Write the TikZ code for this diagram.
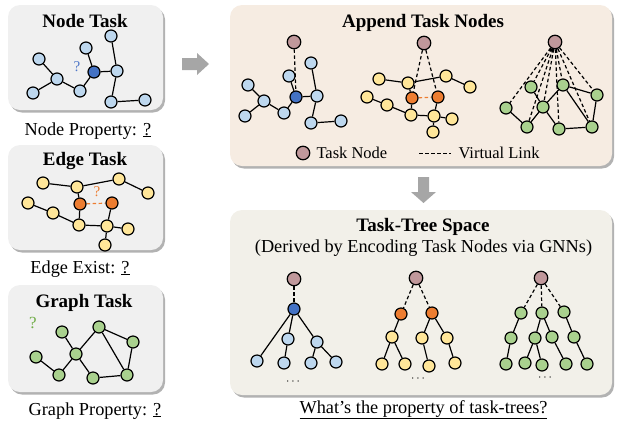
\documentclass[tikz,border=0pt]{standalone}
\usepackage{fontspec}
\setmainfont{Liberation Serif}
\usetikzlibrary{shadows}
\definecolor{lblue}{RGB}{189,215,238}
\definecolor{dblue}{RGB}{68,114,196}
\definecolor{lyel}{RGB}{255,230,153}
\definecolor{dorange}{RGB}{237,125,49}
\definecolor{lgreen}{RGB}{169,209,142}
\definecolor{mauve}{RGB}{192,152,155}
\definecolor{pgray}{RGB}{240,240,240}
\definecolor{pbeige}{RGB}{246,236,226}
\definecolor{pcream}{RGB}{242,240,233}
\definecolor{agray}{RGB}{166,166,166}
\definecolor{qblue}{RGB}{80,120,200}
\definecolor{qgreen}{RGB}{112,173,71}
\pgfdeclarelayer{bg}
\pgfdeclarelayer{edges}
\pgfsetlayers{bg,edges,main}
\begin{document}
\begin{tikzpicture}[x=1pt,y=-1pt,
 panel/.style={rounded corners=12pt, drop shadow={shadow xshift=2pt,shadow yshift=-2.5pt,fill=black,opacity=.3}},
 gnode/.style={circle,draw=black,line width=1.2pt,minimum size=12pt,inner sep=0pt},
 bn/.style={gnode,fill=lblue},
 dbn/.style={gnode,fill=dblue},
 yn/.style={gnode,fill=lyel},
 on/.style={gnode,fill=dorange},
 gn/.style={gnode,fill=lgreen},
 tn/.style={gnode,fill=mauve,minimum size=13.5pt},
 ed/.style={line width=1.2pt},
 vl/.style={line width=1.2pt,dash pattern=on 3.5pt off 2.5pt},
 ovl/.style={line width=1.2pt,dorange,dash pattern=on 3.5pt off 2.5pt},
 title/.style={anchor=base,font=\fontsize{19}{22}\selectfont\bfseries},
 lab/.style={anchor=base,font=\fontsize{18.3}{22}\selectfont},
 leg/.style={anchor=base west,font=\fontsize{16.5}{20}\selectfont},
 qm/.style={font=\fontsize{15}{18}\selectfont},
 dots/.style={font=\fontsize{12}{14}\selectfont}
]
\path[use as bounding box] (0,0) rectangle (617,421);
\begin{pgfonlayer}{bg}
\path[panel,fill=pgray] (8,5) rectangle (163,110);
\path[panel,fill=pgray] (8,145) rectangle (163,250);
\path[panel,fill=pgray] (8,285) rectangle (163,392);
\path[panel,fill=pbeige] (230,5) rectangle (612,166);
\path[panel,fill=pcream] (230,210) rectangle (612,395);
\end{pgfonlayer}
% arrows
\fill[agray] (182,58) -- (197,58) -- (197,53) -- (209,64) -- (197,75) -- (197,70) -- (182,70) -- cycle;
\fill[agray] (418,177) -- (429,177) -- (429,192) -- (436,192) -- (423.5,203) -- (411,192) -- (418,192) -- cycle;
% titles and labels
\node[title] (t1) at (85,27) {Node Task};
\node[lab] (l1) at (88,135) {Node Property: \underline{?}};
\node[title] (t2) at (85,165) {Edge Task};
\node[lab] (l2) at (80,273) {Edge Exist: \underline{?}};
\node[title] (t3) at (84,307) {Graph Task};
\node[lab] (l3) at (95,415) {Graph Property: \underline{?}};
\node[title] (t4) at (423,27) {Append Task Nodes};
\node[title] (t5) at (423,231) {Task-Tree Space};
\node[lab] (t6) at (423.5,252) {(Derived by Encoding Task Nodes via GNNs)};
\node[lab] (l4) at (423.5,413) {\underline{What’s the property of task-trees?}};
% ---- Node Task
\node[bn] (A1) at (39,59) {};
\node[bn] (A2) at (57,79) {};
\node[bn] (A3) at (33,93) {};
\node[bn] (A4) at (80,91) {};
\node[dbn] (A5) at (94,72) {};
\node[bn] (A6) at (86,48) {};
\node[bn] (A7) at (117,71) {};
\node[bn] (A8) at (111,36) {};
\node[bn] (A9) at (111,102) {};
\node[bn] (A10) at (145,100) {};
\node[qm,text=qblue] (Aq) at (77,67) {?};
\begin{pgfonlayer}{edges}
\draw[ed] (A1)--(A2) (A2)--(A3) (A2)--(A4) (A4)--(A5) (A5)--(A6) (A5)--(A7) (A7)--(A8) (A7)--(A9) (A9)--(A10);
\end{pgfonlayer}
% ---- Edge Task
\node[yn] (B1) at (43,183) {};
\node[yn] (B2) at (77,187) {};
\node[yn] (B3) at (119,179) {};
\node[yn] (B4) at (148,193) {};
\node[yn] (B5) at (28,203) {};
\node[yn] (B6) at (53,213) {};
\node[on] (B7) at (80,204) {};
\node[on] (B8) at (112,203) {};
\node[yn] (B9) at (79,225) {};
\node[yn] (B10) at (107,226) {};
\node[yn] (B11) at (128,229) {};
\node[yn] (B12) at (105,245) {};
\node[qm,text=dorange] (Bq) at (97,192) {?};
\begin{pgfonlayer}{edges}
\draw[ed] (B1)--(B2) (B2)--(B3) (B3)--(B4) (B2)--(B7) (B5)--(B6) (B6)--(B9) (B7)--(B9) (B9)--(B10) (B10)--(B8) (B10)--(B11) (B10)--(B12);
\draw[ovl] (B7)--(B8);
\end{pgfonlayer}
% ---- Graph Task
\node[gn] (C1) at (62,332) {};
\node[gn] (C2) at (99,327) {};
\node[gn] (C3) at (133,342) {};
\node[gn] (C4) at (36,357) {};
\node[gn] (C5) at (76,354) {};
\node[gn] (C6) at (59,375) {};
\node[gn] (C7) at (93,378) {};
\node[gn] (C8) at (127,375) {};
\node[qm,text=qgreen,font=\fontsize{17}{20}\selectfont] (Cq) at (33,323) {?};
\begin{pgfonlayer}{edges}
\draw[ed] (C1)--(C5) (C4)--(C6) (C6)--(C5) (C5)--(C2) (C5)--(C7) (C7)--(C8) (C2)--(C8) (C3)--(C8) (C2)--(C3);
\end{pgfonlayer}
% ---- Append graph 1
\node[tn] (DT) at (294,42) {};
\node[bn] (D1) at (311,63) {};
\node[bn] (D2) at (289,76) {};
\node[bn] (D3) at (248,85) {};
\node[bn] (D4) at (264,101) {};
\node[dbn] (D5) at (296,97) {};
\node[bn] (D6) at (317,96) {};
\node[bn] (D7) at (245,116) {};
\node[bn] (D8) at (284,113) {};
\node[bn] (D9) at (311,123) {};
\node[bn] (D10) at (341,121) {};
\begin{pgfonlayer}{edges}
\draw[ed] (D2)--(D5) (D1)--(D6) (D5)--(D6) (D5)--(D8) (D8)--(D4) (D4)--(D3) (D4)--(D7) (D6)--(D9) (D9)--(D10);
\draw[vl] (DT)--(D5);
\end{pgfonlayer}
% ---- Append graph 2
\node[tn] (ET) at (424,43) {};
\node[yn] (E1) at (379,79) {};
\node[yn] (E2) at (408,83) {};
\node[yn] (E3) at (446,76) {};
\node[yn] (E4) at (470,87) {};
\node[yn] (E5) at (367,97) {};
\node[yn] (E6) at (387,105) {};
\node[on] (E7) at (412,98) {};
\node[on] (E8) at (438,97) {};
\node[yn] (E9) at (411,115) {};
\node[yn] (E10) at (434,116) {};
\node[yn] (E11) at (452,119) {};
\node[yn] (E12) at (433,132) {};
\begin{pgfonlayer}{edges}
\draw[ed] (E1)--(E2) (E2)--(E3) (E3)--(E4) (E2)--(E7) (E5)--(E6) (E6)--(E9) (E7)--(E9) (E9)--(E10) (E10)--(E8) (E10)--(E11) (E10)--(E12);
\draw[ovl] (E7)--(E8);
\draw[vl] (ET)--(E7) (ET)--(E8);
\end{pgfonlayer}
% ---- Append graph 3
\node[tn] (FT) at (555,42) {};
\node[gn] (F1) at (531,87) {};
\node[gn] (F2) at (563,85) {};
\node[gn] (F3) at (597,95) {};
\node[gn] (F4) at (506,108) {};
\node[gn] (F5) at (543,107) {};
\node[gn] (F6) at (527,127) {};
\node[gn] (F7) at (559,129) {};
\node[gn] (F8) at (592,127) {};
\begin{pgfonlayer}{edges}
\draw[ed] (F1)--(F5) (F4)--(F6) (F6)--(F5) (F5)--(F2) (F5)--(F7) (F7)--(F8) (F2)--(F8) (F3)--(F8) (F2)--(F3);
\draw[vl] (FT)--(F1) (FT)--(F2) (FT)--(F3) (FT)--(F4) (FT)--(F5) (FT)--(F6) (FT)--(F7) (FT)--(F8);
\end{pgfonlayer}
% ---- legend
\node[tn] (LT) at (303,153) {};
\node[leg] (LTt) at (313,158) {Task Node};
\coordinate (V1) at (419,153);
\coordinate (V2) at (451,153);
\draw[vl,line width=1pt] (V1)--(V2);
\node[leg] (LVt) at (455,158) {Virtual Link};
% ---- Tree 1
\node[tn] (GT) at (294,279) {};
\node[dbn] (G0) at (294,309) {};
\node[bn] (G1) at (288,339) {};
\node[bn] (G2) at (317,342) {};
\node[bn] (G3) at (257,361) {};
\node[bn] (G4) at (284,363) {};
\node[bn] (G5) at (311,363) {};
\node[bn] (G6) at (336,362) {};
\node[dots] (Gd) at (293,382) {$\cdots$};
\begin{pgfonlayer}{edges}
\draw[vl] (GT)--(G0);
\draw[ed] (G0)--(G3) (G0)--(G1) (G0)--(G2) (G1)--(G4) (G2)--(G5) (G2)--(G6);
\end{pgfonlayer}
% ---- Tree 2
\node[tn] (HT) at (416,278) {};
\node[on] (H1) at (401,314) {};
\node[on] (H2) at (432,313) {};
\node[yn] (H3) at (392,337) {};
\node[yn] (H4) at (422,338) {};
\node[yn] (H5) at (447,338) {};
\node[yn] (H6) at (382,364) {};
\node[yn] (H7) at (405,364) {};
\node[yn] (H8) at (429,366) {};
\node[yn] (H9) at (455,363) {};
\node[dots] (Hd) at (418,379) {$\cdots$};
\begin{pgfonlayer}{edges}
\draw[vl] (HT)--(H1) (HT)--(H2);
\draw[ed] (H1)--(H3) (H2)--(H4) (H2)--(H5) (H3)--(H6) (H3)--(H7) (H4)--(H8) (H5)--(H9);
\end{pgfonlayer}
% ---- Tree 3
\node[tn] (IT) at (541,278) {};
\node[gn] (I1) at (521,313) {};
\node[gn] (I2) at (542,313) {};
\node[gn] (I3) at (564,312) {};
\node[gn] (I4) at (511,338) {};
\node[gn] (I5) at (535,338) {};
\node[gn] (I6) at (552,337) {};
\node[gn] (I7) at (574,337) {};
\node[gn] (I8) at (506,364) {};
\node[gn] (I9) at (525,363) {};
\node[gn] (I10) at (542,365) {};
\node[gn] (I11) at (566,364) {};
\node[gn] (I12) at (587,364) {};
\node[dots] (Id) at (545,378) {$\cdots$};
\begin{pgfonlayer}{edges}
\draw[vl] (IT)--(I1) (IT)--(I2) (IT)--(I3);
\draw[ed] (I1)--(I4) (I2)--(I5) (I2)--(I6) (I3)--(I7) (I4)--(I8) (I5)--(I9) (I5)--(I10) (I6)--(I11) (I7)--(I12);
\end{pgfonlayer}
\end{tikzpicture}
\end{document}
